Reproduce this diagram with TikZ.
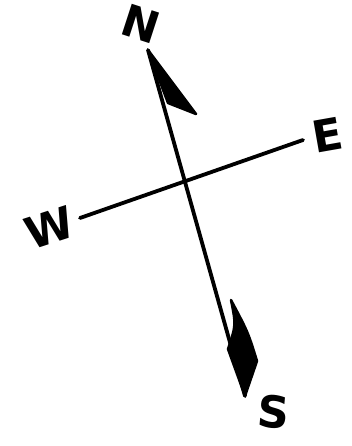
\documentclass[tikz,border=0pt]{standalone}
\usepackage{fontspec}
\setmainfont{DejaVu Sans}
\begin{document}
\begin{tikzpicture}[x=1pt,y=-1pt,
  lbl/.style={font=\fontsize{44}{44}\selectfont\bfseries, inner sep=0pt},
  axis/.style={line width=3.8pt, line cap=round},
  head/.style={fill=black, draw=black, line width=2.5pt, line join=round}]
\useasboundingbox (0,0) rectangle (352,446);
% coordinates
\coordinate (ntip) at (148,50);
\coordinate (stip) at (245,396);
\coordinate (wend) at (80,218);
\coordinate (eend) at (303,140);
\coordinate (nbarb) at (196,114);
\coordinate (nin) at (168,103);
\coordinate (stop) at (231,300);
\coordinate (sleft) at (228,349);
\coordinate (sright) at (257,361);
% axes
\draw[axis] (ntip) -- (stip);
\draw[axis] (wend) -- (eend);
% arrow heads
\filldraw[head] (ntip) -- (nbarb) -- (nin) -- cycle;
\filldraw[head] (stop) .. controls (236,325) .. (sleft) -- (stip) -- (sright) .. controls (248,332) .. (stop) -- cycle;
% labels
\node[lbl, rotate=-18] (n) at (141,24) {N};
\node[lbl, rotate=18] (w) at (50,228) {W};
\node[lbl, rotate=10] (e) at (328,135) {E};
\node[lbl, rotate=-5] (s) at (274,412) {S};
\end{tikzpicture}
\end{document}
